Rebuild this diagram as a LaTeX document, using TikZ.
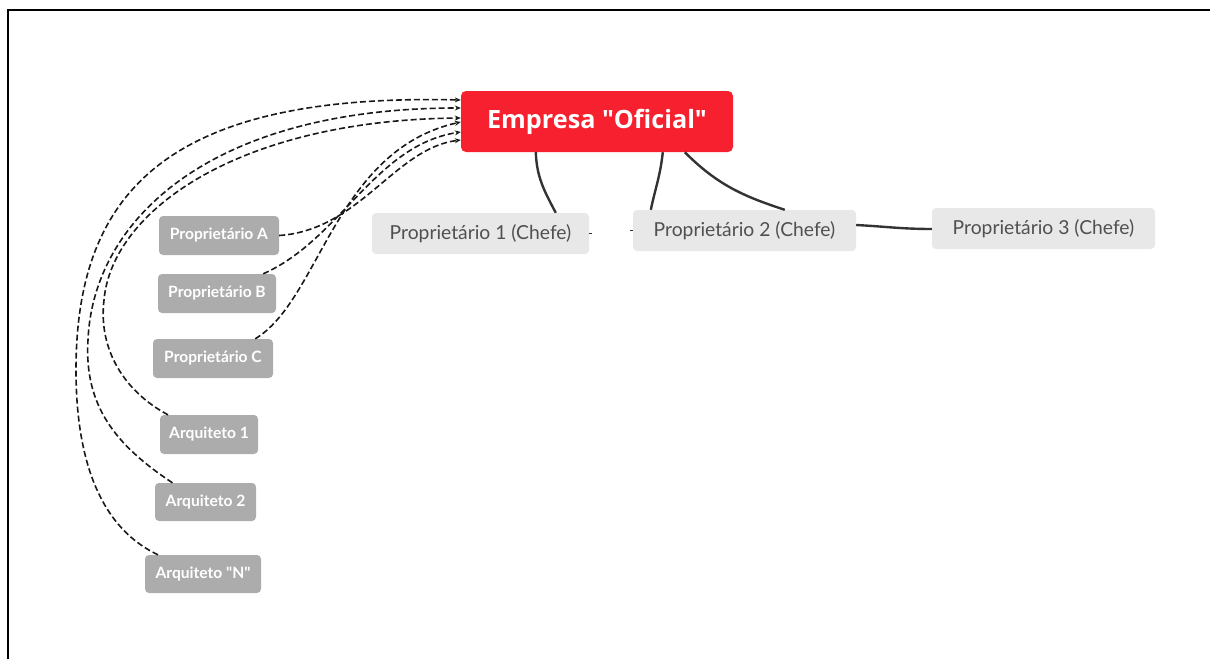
\documentclass[tikz,border=0pt]{standalone}
\usepackage{fontspec}
\setmainfont{Lato}
\newfontfamily\smallf{Lato}
\newfontfamily\empf{Open Sans}
\usetikzlibrary{arrows.meta}
\definecolor{empred}{RGB}{247,32,46}
\definecolor{lightbox}{RGB}{232,232,232}
\definecolor{graybox}{RGB}{172,172,172}
\definecolor{lighttext}{RGB}{80,80,80}
\definecolor{linecol}{RGB}{51,51,51}
\tikzset{
  mainbox/.style={draw=none, fill=empred, rounded corners=5pt, text=white,
    font=\empf\fontsize{25.2}{30}\selectfont\bfseries, minimum width=272pt, minimum height=61pt, inner sep=0pt},
  chefbox/.style={draw=none, fill=lightbox, rounded corners=4pt, text=lighttext,
    font=\fontsize{19.3}{22}\selectfont, minimum height=41pt, inner sep=0pt},
  smallbox/.style={draw=none, fill=graybox, rounded corners=4pt, text=white,
    font=\smallf\fontsize{15.6}{18}\selectfont\bfseries, minimum height=39pt, inner sep=0pt},
  solidlink/.style={draw=linecol, line width=2.4pt},
  dashlink/.style={draw=black!90, line width=1.6pt, dash pattern=on 6pt off 3pt,
    -{Stealth[length=6pt,width=5pt]}},
  framel/.style={draw=black, line width=2pt}
}
\begin{document}
\begin{tikzpicture}[x=1pt,y=-1pt]
\useasboundingbox (0,0) rectangle (1210,659);
% frame
\coordinate (fa) at (8,659);
\coordinate (fb) at (8,10);
\coordinate (fc) at (1210,10);
\draw[framel] (fa) -- (fb) -- (fc);

% nodes
\node[mainbox] (emp) at (597,121.5) {Empresa \symbol{34}Oficial\symbol{34}};
\node[chefbox, minimum width=217pt] (p1) at (480.5,233.5) {Proprietário 1 (Chefe)};
\node[chefbox, minimum width=223pt] (p2) at (744.5,230.5) {Proprietário 2 (Chefe)};
\node[chefbox, minimum width=223pt] (p3) at (1043.5,228.5) {Proprietário 3 (Chefe)};

\node[smallbox, minimum width=120pt] (pa) at (219,235.5) {Proprietário A};
\node[smallbox, minimum width=118pt] (pb) at (217,293.5) {Proprietário B};
\node[smallbox, minimum width=120pt] (pc) at (213,358.5) {Proprietário C};
\node[smallbox, minimum width=98pt] (a1) at (209,434.5) {Arquiteto 1};
\node[smallbox, minimum width=101pt, minimum height=38pt] (a2) at (205.5,502) {Arquiteto 2};
\node[smallbox, minimum width=116pt, minimum height=38pt] (an) at (203,574) {Arquiteto \symbol{34}N\symbol{34}};

% solid links
\draw[solidlink] ([xshift=75pt]emp.south west) to[out=-88,in=118] ([xshift=184pt]p1.north west);
\draw[solidlink] ([xshift=202pt]emp.south west) to[out=-96,in=78] ([xshift=18pt]p2.north west);
\draw[solidlink] ([xshift=224pt]emp.south west) to[out=-45,in=162] ([xshift=152pt]p2.north west);
\draw[solidlink] ([yshift=5.5pt]p2.east) to[out=-3,in=180] ([yshift=-0.5pt]p3.west);
\draw[draw=linecol, line width=1.5pt] (p1.east) -- ++(2.5,0);
\draw[draw=linecol, line width=1.5pt] (p2.west) -- ++(-2.5,0);

% dashed links
\draw[dashlink] ([xshift=-45pt]an.north) .. controls (95,525) and (76,450) .. (76,370)
  .. controls (76,190) and (170,93) .. ([yshift=21.5pt]emp.west);
\draw[dashlink] ([xshift=-33pt]a2.north) .. controls (115,445) and (84,405) .. (88,340)
  .. controls (93,220) and (210,108) .. ([yshift=13.5pt]emp.west);
\draw[dashlink] ([xshift=-41pt]a1.north) .. controls (125,392) and (98,350) .. (104,300)
  .. controls (112,210) and (240,120) .. ([yshift=3.5pt]emp.west);

\draw[dashlink] (pa.east) .. controls (360,230) and (395,148) .. ([yshift=-18.5pt]emp.west);
\draw[dashlink] ([xshift=-13pt]pb.north east) .. controls (340,240) and (375,145) .. ([yshift=-10.5pt]emp.west);
\draw[dashlink] ([xshift=-18pt]pc.north east) .. controls (320,300) and (335,150) .. ([yshift=-0.5pt]emp.west);
\end{tikzpicture}
\end{document}
